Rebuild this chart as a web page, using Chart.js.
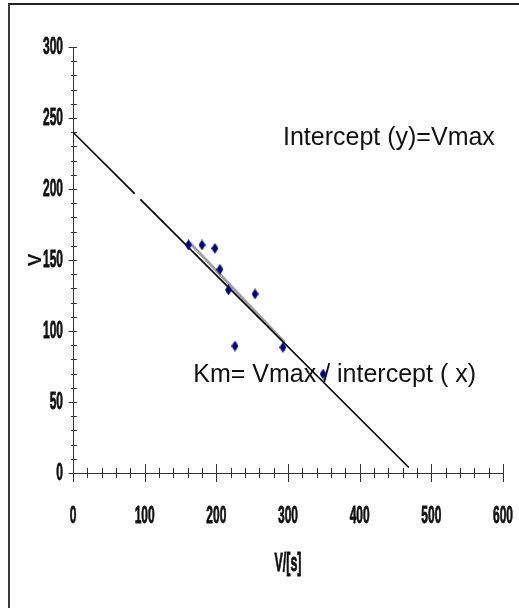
<!DOCTYPE html>
<html>
<head>
<meta charset="utf-8">
<script src="https://cdn.jsdelivr.net/npm/chart.js@4.4.1/dist/chart.umd.min.js"></script>
<style>
html, body { margin: 0; padding: 0; background: #fff; }
#wrap { position: relative; width: 519px; height: 608px; overflow: hidden; }
#frame { position: absolute; left: 8px; top: 3px; width: 600px; height: 700px; border-top: 2px solid #222; border-left: 2px solid #3a3a3a; }
canvas { position: absolute; left: 0; top: 0; }
</style>
</head>
<body>
<div id="wrap"><div id="frame"></div><canvas id="c" width="519" height="608"></canvas></div>
<script>
// --- values ---
const sValues = [161, 180, 198, 205, 217, 254, 226, 293, 349];            // V/[s]
const vValues = [160.6, 160.6, 158.2, 143.4, 128.9, 126.1, 89.4, 88.5, 69.7]; // V
// straight line through both intercepts (small gap as in the original)
const fitX = [0, 86, null, 94, 468.6];
const fitY = [240, 196.7, null, 192.7, 3.9];
// short grey trend line over the points
const trendX = [161, 295];
const trendY = [163.2, 92];
const xTickLabels = [0, 100, 200, 300, 400, 500, 600];
const yTickLabels = [0, 50, 100, 150, 200, 250, 300];
const xMinorStep = 20;
const yMinorStep = 10;

const toPoints = (xs, ys) => xs.map((x, i) => ({ x, y: ys[i] }));

// tall navy diamond marker
const diamond = document.createElement('canvas');
diamond.width = 7; diamond.height = 11;
const dctx = diamond.getContext('2d');
dctx.fillStyle = '#000080';
dctx.beginPath();
dctx.moveTo(3.5, 0); dctx.lineTo(7, 5.5); dctx.lineTo(3.5, 11); dctx.lineTo(0, 5.5);
dctx.closePath(); dctx.fill();

const LABEL_FONT = 'bold 15px "Liberation Sans", Arial, sans-serif';

function stretchedText(ctx, text, x, y, sx, sy, align) {
    ctx.save();
    ctx.translate(x, y);
    ctx.scale(sx, sy);
    ctx.textAlign = align;
    ctx.textBaseline = 'middle';
    ctx.fillText(text, 0, 0);
    ctx.lineWidth = 0.5;
    ctx.strokeText(text, 0, 0);
    ctx.restore();
}

// crossing tick marks, condensed tick labels, x title
const axisDecor = {
    id: 'axisDecor',
    beforeDatasetsDraw(chart) {
        const { ctx, scales: { x, y } } = chart;
        ctx.save();
        ctx.fillStyle = '#111';
        ctx.font = '25px "Liberation Sans", Arial, sans-serif';
        ctx.textAlign = 'left';
        ctx.textBaseline = 'alphabetic';
        ctx.fillText('Intercept (y)=Vmax', x.getPixelForValue(293), y.getPixelForValue(230.7));
        ctx.fillText('Km= Vmax / intercept ( x)', x.getPixelForValue(167.8), y.getPixelForValue(63.8));
        ctx.restore();
    },
    afterDraw(chart) {
        const { ctx, scales: { x, y } } = chart;
        const x0 = x.getPixelForValue(0);
        const y0 = y.getPixelForValue(0);
        const xMax = xTickLabels[xTickLabels.length - 1];
        const yMax = yTickLabels[yTickLabels.length - 1];
        ctx.save();
        ctx.strokeStyle = '#333';
        ctx.lineWidth = 1;
        ctx.beginPath();
        for (let v = 0; v <= xMax; v += xMinorStep) {
            const px = Math.round(x.getPixelForValue(v)) + 0.5;
            const len = xTickLabels.includes(v) ? 9 : 5;
            ctx.moveTo(px, y0 - len);
            ctx.lineTo(px, y0 + len);
        }
        for (let v = 0; v <= yMax; v += yMinorStep) {
            const py = Math.round(y.getPixelForValue(v)) + 0.5;
            const major = yTickLabels.includes(v);
            ctx.moveTo(x0 - (major ? 4.5 : 2), py);
            ctx.lineTo(x0 + 4, py);
        }
        ctx.stroke();

        ctx.fillStyle = '#111';
        ctx.strokeStyle = '#111';
        ctx.font = LABEL_FONT;
        xTickLabels.forEach(v => stretchedText(ctx, String(v), x.getPixelForValue(v), y0 + 43, 0.8, 1.58, 'center'));
        yTickLabels.forEach(v => stretchedText(ctx, String(v), x0 - 10, y.getPixelForValue(v) + 0.5, 0.8, 1.58, 'right'));
        stretchedText(ctx, 'V/[s]', (chart.chartArea.left + chart.chartArea.right) / 2, y0 + 91, 0.83, 1.68, 'center');
        ctx.restore();
    }
};

new Chart(document.getElementById('c'), {
    type: 'scatter',
    data: {
        datasets: [
            {
                label: 'V',
                data: toPoints(sValues, vValues),
                pointStyle: diamond,
                pointRadius: 5,
                showLine: false
            },
            {
                label: 'fit',
                data: toPoints(fitX, fitY),
                showLine: true,
                spanGaps: false,
                borderColor: '#000',
                borderWidth: 1.6,
                pointRadius: 0
            },
            {
                label: 'trend',
                data: toPoints(trendX, trendY),
                showLine: true,
                borderColor: '#a0a0a0',
                borderWidth: 3,
                pointRadius: 0
            }
        ]
    },
    options: {
        responsive: false,
        animation: false,
        events: [],
        layout: { padding: { left: 0, top: 47, right: 16, bottom: 0 } },
        plugins: { legend: { display: false }, tooltip: { enabled: false } },
        scales: {
            x: {
                type: 'linear',
                min: 0,
                max: 600,
                grid: { display: false, drawTicks: false },
                border: { display: true, color: '#333', width: 1 },
                ticks: { display: false },
                afterFit: s => { s.height = 135; }
            },
            y: {
                type: 'linear',
                min: 0,
                max: 300,
                grid: { display: false, drawTicks: false },
                border: { display: true, color: '#333', width: 1 },
                ticks: { display: false },
                title: {
                    display: true,
                    text: 'V',
                    color: '#111',
                    font: { family: '"Liberation Sans", Arial, sans-serif', size: 19, weight: 'bold' },
                    padding: { top: 24, bottom: 0 }
                },
                afterFit: s => { s.width = 73; }
            }
        }
    },
    plugins: [axisDecor]
});
</script>
</body>
</html>
